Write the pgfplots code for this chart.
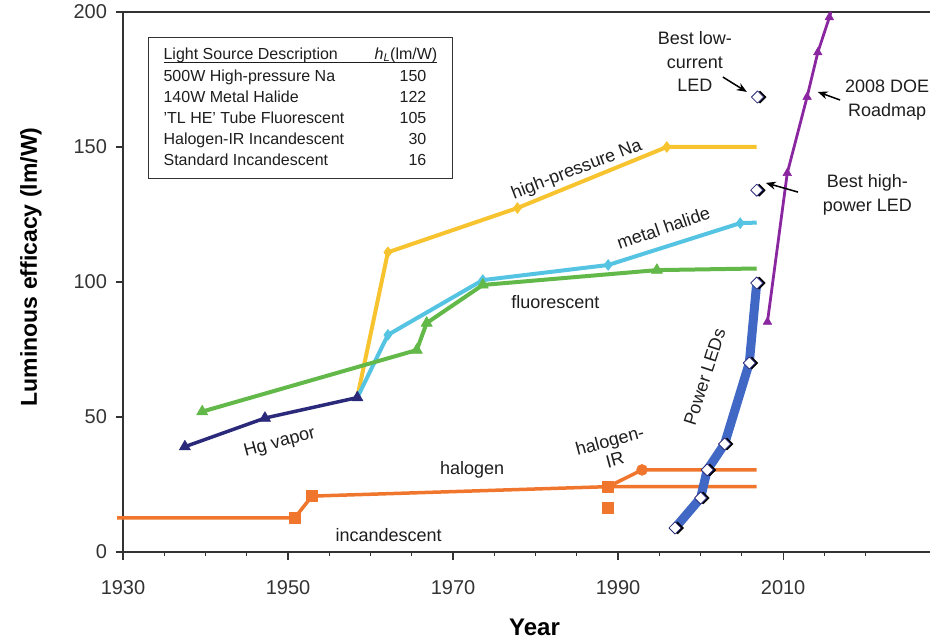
\documentclass[border=0pt]{standalone}
\usepackage{pgfplots}
\pgfplotsset{compat=1.18}
\usepackage{fontspec}
\setmainfont{Liberation Sans}
\usetikzlibrary{calc, arrows.meta}

\definecolor{hpna}{RGB}{247,196,48}
\definecolor{mhal}{RGB}{84,196,226}
\definecolor{fluo}{RGB}{98,184,72}
\definecolor{hgv}{RGB}{43,42,122}
\definecolor{inca}{RGB}{240,118,46}
\definecolor{led}{RGB}{66,104,198}
\definecolor{doe}{RGB}{138,38,160}
\definecolor{txt}{RGB}{30,30,30}
\definecolor{axc}{RGB}{51,51,51}

\begin{document}
\begin{tikzpicture}
\begin{axis}[
    scale only axis, width=807pt, height=540pt,
    xmin=1930, xmax=2027.8, ymin=0, ymax=200,
    clip=false,
    axis x line*=bottom, axis y line*=left,
    axis line style={axc, line width=1.3pt},
    xtick={1930,1950,1970,1990,2010},
    minor xtick={1935,1940,...,2020},
    ytick={0,50,100,150,200},
    tick align=outside,
    major tick length=7.5pt, minor tick length=4pt,
    every tick/.style={axc, line width=1.2pt},
    /pgf/number format/assume math mode=true,
    ticklabel style={font=\fontsize{20}{20}\selectfont, text=axc},
    xticklabel style={yshift=-17pt, /pgf/number format/1000 sep={}},
    yticklabel style={xshift=-5pt},
    xlabel={Year},
    ylabel={Luminous efficacy (lm/W)},
    xlabel style={at={(axis description cs:0.51,-0.139)}, anchor=center,
        font=\bfseries\fontsize{24}{24}\selectfont},
    ylabel style={at={(axis description cs:-0.114,0.528)}, anchor=center, rotate=0,
        font=\bfseries\fontsize{23}{23}\selectfont},
    every axis plot/.append style={line join=round},
]
\draw[axc, line width=1.3pt] (rel axis cs:0,1) -- (rel axis cs:1,1);

% high-pressure Na
\addplot[hpna, line width=4pt, mark=diamond*, mark size=5.5pt,
    mark options={solid, line width=0.5pt}, mark indices={2,3,4}]
    coordinates {(1958.4,57.4) (1962.1,111) (1977.8,127.4) (1995.9,150) (2006.8,150)};
% metal halide
\addplot[mhal, line width=4pt, mark=diamond*, mark size=5.5pt,
    mark options={solid, line width=0.5pt}, mark indices={2,3,4,5}]
    coordinates {(1958.4,57.2) (1962.1,80.4) (1973.6,100.7) (1988.8,106.3) (2004.8,121.8) (2006.8,122)};
% fluorescent
\addplot[fluo, line width=4pt, mark=triangle*, mark size=6.5pt,
    mark options={solid, line width=0.5pt}, mark indices={1,2,3,4,5}]
    coordinates {(1939.6,52) (1965.6,74.8) (1966.8,84.8) (1973.6,98.9) (1994.7,104.4) (2006.8,105)};
% Hg vapor
\addplot[hgv, line width=3.5pt, mark=triangle*, mark size=6.5pt,
    mark options={solid, line width=0.5pt}]
    coordinates {(1937.5,39) (1947.2,49.6) (1958.4,57.2)};

% incandescent / halogen
\addplot[inca, line width=3.5pt, mark=square*, mark size=5.5pt,
    mark options={solid, line width=0.5pt}, mark indices={2,3,4}]
    coordinates {(1929.3,12.6) (1950.8,12.6) (1952.9,20.7) (1988.8,24.2) (2006.8,24.2)};
\addplot[inca, line width=3.5pt, mark=*, mark size=5.5pt,
    mark options={solid, line width=0.5pt}, mark indices={2}]
    coordinates {(1988.8,24.2) (1992.9,30.4) (2006.8,30.4)};
\addplot[inca, only marks, mark=square*, mark size=5.5pt]
    coordinates {(1988.8,16.3)};

% power LEDs
\addplot[led, line width=9pt]
    coordinates {(1996.9,8.9) (2000,20) (2000.8,30.4) (2002.9,40) (2005.9,70) (2006.8,99.6)};
\addplot[only marks, mark=square*, mark size=4.3pt,
    mark options={rotate=45, fill=black, draw=black, xshift=1.8pt, yshift=-1.8pt}]
    coordinates {(1996.9,8.9) (2000,20) (2000.8,30.4) (2002.9,40) (2005.9,70) (2006.8,99.6)
                 (2006.8,134) (2006.9,168.5)};
\addplot[only marks, mark=square*, mark size=4.3pt,
    mark options={rotate=45, fill=white, draw=hgv, line width=0.8pt}]
    coordinates {(1996.9,8.9) (2000,20) (2000.8,30.4) (2002.9,40) (2005.9,70) (2006.8,99.6)
                 (2006.8,134) (2006.9,168.5)};

% 2008 DOE roadmap
\addplot[doe, line width=2.8pt, mark=triangle*, mark size=5pt,
    mark options={solid, line width=0.5pt}, mark indices={1,2,3,4,5}]
    coordinates {(2008.1,85.2) (2010.5,140.3) (2012.9,168.5) (2014.2,185) (2015.6,198) (2015.8,200)};

% labels on the curves
\begin{scope}[every node/.style={font=\fontsize{18}{21}\selectfont, text=txt}]
\node[rotate=21] at (axis cs:1985,141.5) {high-pressure Na};
\node[rotate=19] at (axis cs:1995.5,120) {metal halide};
\node at (axis cs:1982.4,92.6) {fluorescent};
\node[rotate=15] at (axis cs:1949,40.4) {Hg vapor};
\node at (axis cs:1972.3,30.4) {halogen};
\node at (axis cs:1962.2,6.3) {incandescent};
\node[rotate=15, align=center, font=\fontsize{18}{20}\selectfont] at (axis cs:1989.3,37.8) {halogen-\\IR};
\node[rotate=72] at (axis cs:2000.5,64.8) {Power LEDs};
\node[align=center, font=\fontsize{18}{23.5}\selectfont] at (axis cs:1999.3,181.5) {Best low-\\current\\LED};
\node[align=center, font=\fontsize{18}{24}\selectfont] at (axis cs:2022.6,167.4) {2008 DOE\\Roadmap};
\node[align=center, font=\fontsize{18}{24}\selectfont] at (axis cs:2020.2,132.2) {Best high-\\power LED};
\end{scope}
\draw[-{Stealth[length=10pt,width=8pt]}, line width=1.5pt, black] (axis cs:2002.7,175.9) -- (axis cs:2005.6,170.4);
\draw[-{Stealth[length=10pt,width=8pt]}, line width=1.5pt, black] (axis cs:2016.9,167.4) -- (axis cs:2014.2,170.4);
\draw[-{Stealth[length=10pt,width=8pt]}, line width=1.5pt, black] (axis cs:2011.8,133.3) -- (axis cs:2007.9,136.7);

% table of efficacies
\node[draw=axc, line width=1.2pt, fill=white, anchor=north west,
      inner xsep=15pt, inner ysep=7pt, font=\fontsize{16}{21}\selectfont, text=txt]
      at (axis cs:1933.03,190.7) {%
  \setlength{\arrayrulewidth}{1pt}%
  \begin{tabular}{@{}p{199pt}r@{}}
  Light Source Description & \textit{h}\textsubscript{\textit{L}}(lm/W) \\[-4pt]
  \hline
  \noalign{\vskip 3.7pt}
  500W High-pressure Na & 150\hspace{11pt} \\
  140W Metal Halide & 122\hspace{11pt} \\
  'TL HE' Tube Fluorescent & 105\hspace{11pt} \\
  Halogen-IR Incandescent & 30\hspace{11pt} \\
  Standard Incandescent & 16\hspace{11pt} \\
  \end{tabular}\hspace{15pt}};
\end{axis}
\pgfresetboundingbox
\path ($(current axis.south west)+(-123pt,-87pt)$) rectangle ($(current axis.north east)+(0pt,12pt)$);
\end{tikzpicture}
\end{document}
